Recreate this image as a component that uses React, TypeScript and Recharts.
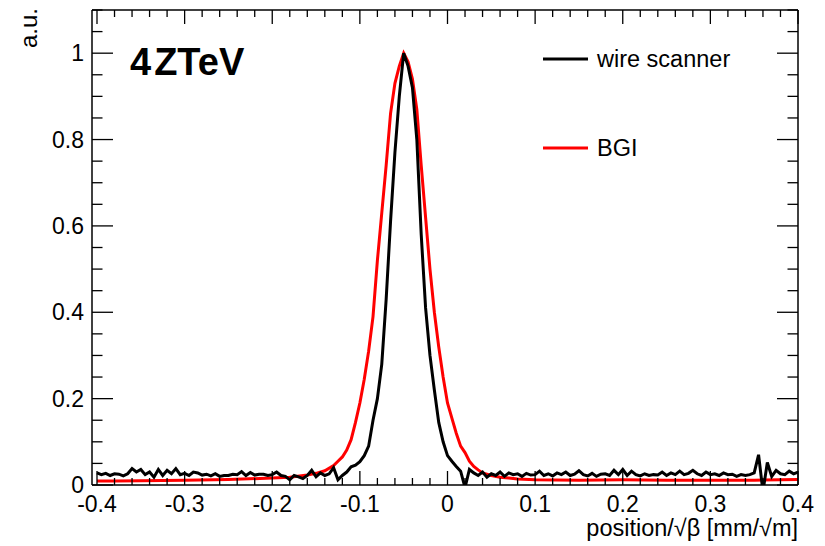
import React from 'react';
import { LineChart, Line, XAxis, YAxis, Customized } from 'recharts';

const FONT = '"Liberation Sans", Arial, Helvetica, sans-serif';

const X_DOMAIN: [number, number] = [-0.4057, 0.4];
const Y_DOMAIN: [number, number] = [0, 1.1];

const xMajorTicks = [-0.4, -0.3, -0.2, -0.1, 0, 0.1, 0.2, 0.3, 0.4];
const xTickLabels = ['-0.4', '-0.3', '-0.2', '-0.1', '0', '0.1', '0.2', '0.3', '0.4'];
const xAllTicks = Array.from({ length: 41 }, (_, i) => Math.round((-0.4 + i * 0.02) * 1000) / 1000);

const yMajorTicks = [0, 0.2, 0.4, 0.6, 0.8, 1];
const yTickLabels = ['0', '0.2', '0.4', '0.6', '0.8', '1'];
const yAllTicks = Array.from({ length: 23 }, (_, i) => Math.round(i * 0.05 * 1000) / 1000);

// wire scanner: bins of 0.005 from -0.4 to 0.4
const wireX = Array.from({ length: 161 }, (_, i) => Math.round((-0.4 + i * 0.005) * 10000) / 10000);
const wireY = [
  0.028, 0.024, 0.027, 0.022, 0.026, 0.025, 0.021, 0.026, 0.038, 0.030,
  0.036, 0.024, 0.030, 0.018, 0.036, 0.022, 0.034, 0.026, 0.038, 0.024,
  0.027, 0.022, 0.030, 0.028, 0.023, 0.025, 0.021, 0.026, 0.020, 0.022,
  0.022, 0.025, 0.024, 0.031, 0.022, 0.029, 0.023, 0.025, 0.025, 0.022,
  0.024, 0.030, 0.022, 0.020, 0.012, 0.022, 0.019, 0.015, 0.022, 0.034,
  0.019, 0.028, 0.022, 0.026, 0.040, 0.012, 0.022, 0.030, 0.042, 0.046,
  0.054, 0.068, 0.090, 0.150, 0.200, 0.280, 0.430, 0.610, 0.770, 0.900,
  1.000, 0.970, 0.920, 0.800, 0.580, 0.410, 0.300, 0.220, 0.145, 0.100,
  0.068, 0.055, 0.043, 0.032, -0.006, 0.036, 0.028, 0.022, 0.030, 0.018,
  0.026, 0.022, 0.030, 0.020, 0.028, 0.024, 0.026, 0.020, 0.027, 0.023,
  0.024, 0.032, 0.022, 0.026, 0.021, 0.028, 0.024, 0.030, 0.022, 0.025,
  0.033, 0.024, 0.021, 0.027, 0.020, 0.025, 0.026, 0.022, 0.034, 0.024,
  0.036, 0.022, 0.032, 0.024, 0.021, 0.026, 0.022, 0.024, 0.023, 0.030,
  0.022, 0.028, 0.024, 0.032, 0.024, 0.027, 0.034, 0.026, 0.022, 0.030,
  0.024, 0.026, 0.022, 0.028, 0.024, 0.025, 0.020, 0.024, 0.022, 0.024,
  0.028, 0.070, -0.015, 0.052, 0.020, 0.034, 0.026, 0.024, 0.032, 0.026,
  0.030,
];

// BGI profile
const bgiX = [
  -0.4, -0.38, -0.35, -0.3, -0.25, -0.2, -0.18, -0.16, -0.15, -0.14, -0.13,
  -0.125, -0.12, -0.115, -0.11, -0.105, -0.1, -0.095, -0.09, -0.085, -0.08,
  -0.075, -0.07, -0.065, -0.06, -0.055, -0.05, -0.045, -0.04, -0.035, -0.03,
  -0.025, -0.02, -0.015, -0.01, -0.005, 0, 0.005, 0.01, 0.015, 0.02, 0.025,
  0.03, 0.035, 0.04, 0.05, 0.06, 0.07, 0.08, 0.1, 0.15, 0.2, 0.25, 0.3, 0.35, 0.4,
];
const bgiY = [
  0.009, 0.009, 0.010, 0.011, 0.013, 0.016, 0.018, 0.023, 0.027, 0.033, 0.045,
  0.055, 0.065, 0.081, 0.105, 0.145, 0.19, 0.245, 0.31, 0.39, 0.52,
  0.63, 0.74, 0.86, 0.93, 0.97, 1.0, 0.98, 0.94, 0.87, 0.74,
  0.62, 0.50, 0.40, 0.32, 0.25, 0.19, 0.155, 0.12, 0.09, 0.075, 0.055,
  0.043, 0.035, 0.028, 0.022, 0.018, 0.016, 0.014, 0.012, 0.011, 0.012, 0.011, 0.011, 0.011, 0.013,
];

const seriesNames = ['wire scanner', 'BGI'];
const seriesColors = ['#000000', '#ff0000'];
const titleText = ['4', 'ZTeV'];
const xTitle = 'position/\u221A\u03B2 [mm/\u221Am]';
const yTitle = 'a.u.';

const wireData = wireX.map((x, i) => ({ x, y: wireY[i] }));
const bgiData = bgiX.map((x, i) => ({ x, y: bgiY[i] }));

const isMajor = (arr: number[], v: number) => arr.findIndex((m) => Math.abs(m - v) < 1e-6);

const TICK_FS = 23;
const X_MAJOR_LEN = 14;
const X_MINOR_LEN = 7;
const Y_MAJOR_LEN = 21;
const Y_MINOR_LEN = 10.5;

const BottomTick = (props: any) => {
  const { x, y, payload } = props;
  const idx = isMajor(xMajorTicks, payload.value);
  const len = idx >= 0 ? X_MAJOR_LEN : X_MINOR_LEN;
  return (
    <g>
      <line x1={x} x2={x} y1={y} y2={y - len} stroke="#000" strokeWidth={1.3} />
      {idx >= 0 && (
        <text x={x} y={y + 27} textAnchor="middle" fontFamily={FONT} fontSize={TICK_FS} fill="#000">
          {xTickLabels[idx]}
        </text>
      )}
    </g>
  );
};

const TopTick = (props: any) => {
  const { x, y, payload } = props;
  const idx = isMajor(xMajorTicks, payload.value);
  const len = idx >= 0 ? X_MAJOR_LEN : X_MINOR_LEN;
  return <line x1={x} x2={x} y1={y} y2={y + len} stroke="#000" strokeWidth={1.3} />;
};

const LeftTick = (props: any) => {
  const { x, y, payload } = props;
  const idx = isMajor(yMajorTicks, payload.value);
  const len = idx >= 0 ? Y_MAJOR_LEN : Y_MINOR_LEN;
  return (
    <g>
      <line x1={x} x2={x + len} y1={y} y2={y} stroke="#000" strokeWidth={1.3} />
      {idx >= 0 && (
        <text x={x - 8} y={y + 8} textAnchor="end" fontFamily={FONT} fontSize={TICK_FS} fill="#000">
          {yTickLabels[idx]}
        </text>
      )}
    </g>
  );
};

const RightTick = (props: any) => {
  const { x, y, payload } = props;
  const idx = isMajor(yMajorTicks, payload.value);
  const len = idx >= 0 ? Y_MAJOR_LEN : Y_MINOR_LEN;
  return <line x1={x} x2={x - len} y1={y} y2={y} stroke="#000" strokeWidth={1.3} />;
};

const Overlay = () => (
  <g fontFamily={FONT} fill="#000">
    <text x={130} y={75} fontSize={38} fontWeight="bold">
      <tspan>{titleText[0]}</tspan>
      <tspan dx={3}>{titleText[1]}</tspan>
    </text>
    <line x1={543} x2={588} y1={59} y2={59} stroke={seriesColors[0]} strokeWidth={3} />
    <text x={597} y={67} fontSize={23.5}>{seriesNames[0]}</text>
    <line x1={543} x2={588} y1={148} y2={148} stroke={seriesColors[1]} strokeWidth={3} />
    <text x={597} y={156} fontSize={23.5}>{seriesNames[1]}</text>
    <text x={798} y={536} fontSize={23.5} textAnchor="end">{xTitle}</text>
    <text transform="translate(37,8) rotate(-90)" fontSize={24} textAnchor="end">{yTitle}</text>
  </g>
);

const axisLineStyle = { stroke: '#000', strokeWidth: 1.5 };

export default function App() {
  return (
    <div style={{ width: 825, height: 546, background: '#fff' }}>
      <style>{'body{margin:0;background:#fff}'}</style>
      <LineChart width={825} height={546} margin={{ top: 9, right: 26, bottom: 60, left: 91 }}>
        <XAxis
          xAxisId="bottom"
          dataKey="x"
          type="number"
          domain={X_DOMAIN}
          allowDataOverflow
          ticks={xAllTicks}
          interval={0}
          height={1}
          tickSize={0}
          tickMargin={0}
          tickLine={false}
          axisLine={axisLineStyle}
          tick={BottomTick}
        />
        <XAxis
          xAxisId="top"
          orientation="top"
          dataKey="x"
          type="number"
          domain={X_DOMAIN}
          allowDataOverflow
          ticks={xAllTicks}
          interval={0}
          height={1}
          tickSize={0}
          tickMargin={0}
          tickLine={false}
          axisLine={axisLineStyle}
          tick={TopTick}
        />
        <YAxis
          yAxisId="left"
          type="number"
          domain={Y_DOMAIN}
          allowDataOverflow
          ticks={yAllTicks}
          interval={0}
          width={1}
          tickSize={0}
          tickMargin={0}
          tickLine={false}
          axisLine={axisLineStyle}
          tick={LeftTick}
        />
        <YAxis
          yAxisId="right"
          orientation="right"
          type="number"
          domain={Y_DOMAIN}
          allowDataOverflow
          ticks={yAllTicks}
          interval={0}
          width={1}
          tickSize={0}
          tickMargin={0}
          tickLine={false}
          axisLine={axisLineStyle}
          tick={RightTick}
        />
        <Line
          xAxisId="bottom"
          yAxisId="left"
          data={bgiData}
          dataKey="y"
          type="linear"
          stroke={seriesColors[1]}
          strokeWidth={3}
          dot={false}
          isAnimationActive={false}
        />
        <Line
          xAxisId="bottom"
          yAxisId="left"
          data={wireData}
          dataKey="y"
          type="linear"
          stroke={seriesColors[0]}
          strokeWidth={3}
          dot={false}
          isAnimationActive={false}
        />
        <Customized component={Overlay} />
      </LineChart>
    </div>
  );
}
